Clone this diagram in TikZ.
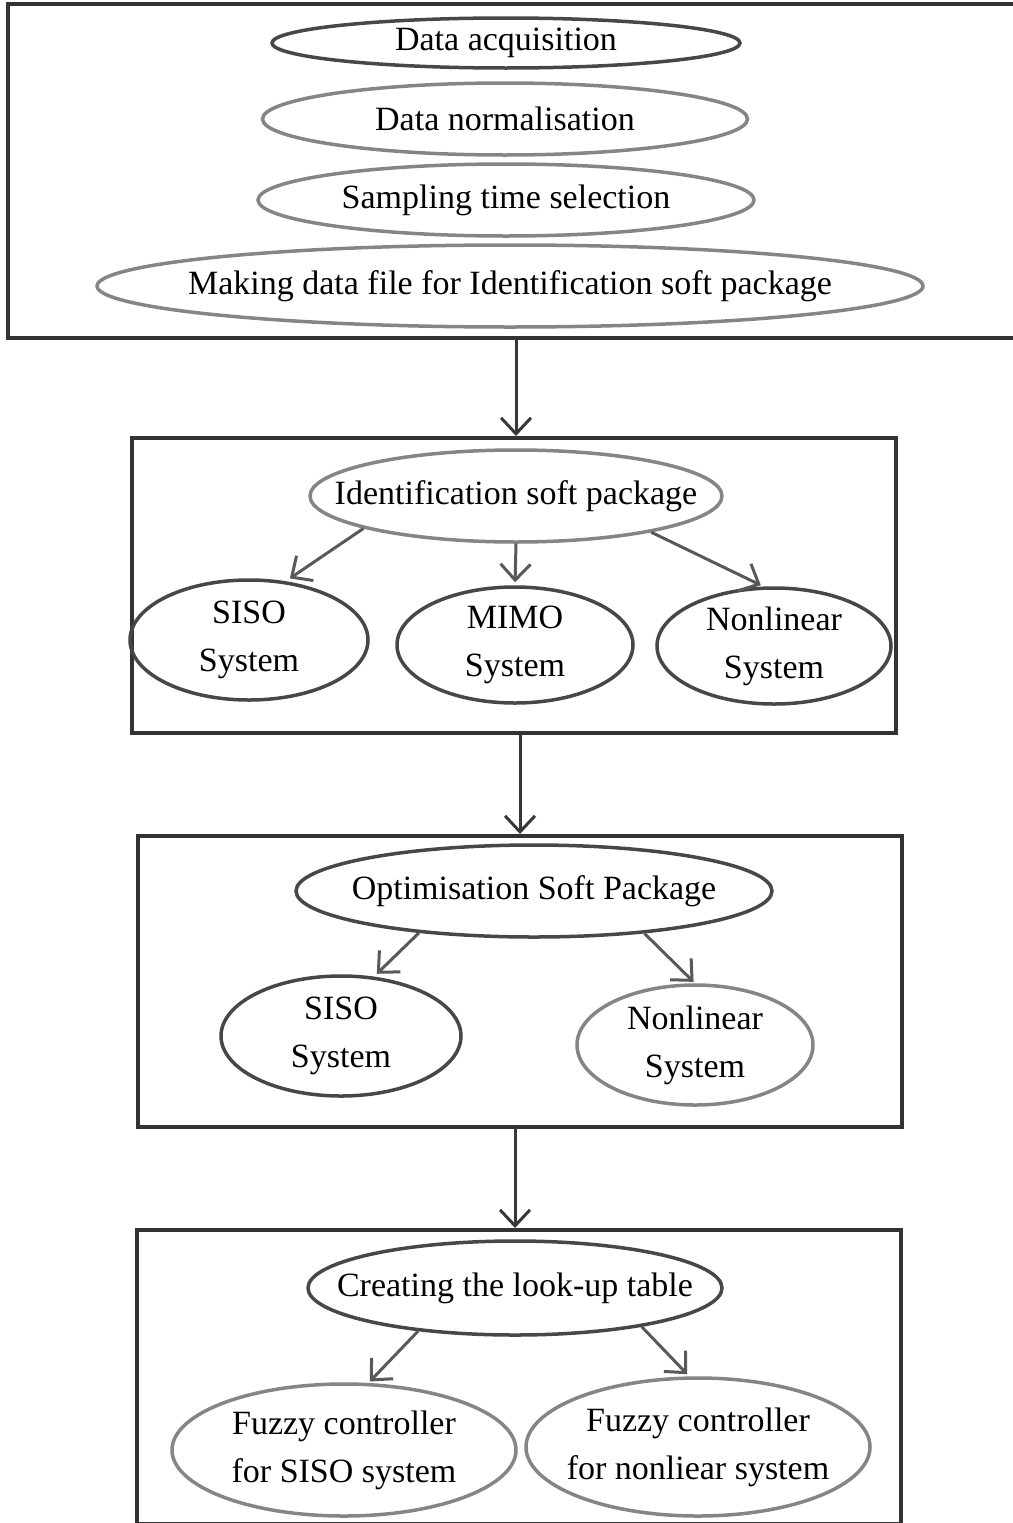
\documentclass[tikz,border=0pt]{standalone}
\usepackage{fontspec}
\setmainfont{Liberation Serif}
\usetikzlibrary{shapes.geometric,arrows.meta}

\tikzset{
  frame/.style={draw=black!80, line width=4pt},
  oval/.style={shape=ellipse, draw=black!72, line width=3.5pt, inner xsep=-150pt, inner ysep=-150pt,
               align=center, font=\fontsize{34}{48}\selectfont},
  lightoval/.style={oval, draw=black!48},
  flow/.style={draw=black!78, line width=3pt, -{Straight Barb[length=16pt,width=30pt,line width=3pt]}},
  subflow/.style={flow, draw=black!65}
}

\begin{document}
\begin{tikzpicture}[x=1pt,y=-1pt]
\useasboundingbox (0,0) rectangle (1012,1523);

% Stage 1: data preparation
\node[frame, minimum width=1040pt, minimum height=334pt, inner sep=0pt] (box1) at (528,171) {};
\node[oval, minimum width=468pt, minimum height=50pt] (acq) at (506,43) {Data acquisition};
\node[lightoval, minimum width=485pt, minimum height=72pt] (norm) at (505,119) {Data normalisation};
\node[lightoval, minimum width=496pt, minimum height=72pt] (samp) at (506,200) {Sampling time selection};
\node[lightoval, minimum width=826pt, minimum height=82pt] (mkfile) at (510,286) {Making data file for Identification soft package};

% Stage 2: identification
\node[frame, minimum width=764pt, minimum height=295pt, inner sep=0pt] (box2) at (514,585.5) {};
\node[lightoval, minimum width=412pt, minimum height=92pt] (ident) at (516,496) {Identification soft package};
\node[oval, minimum width=238pt, minimum height=120pt] (idsiso) at (249,640) {SISO\\System};
\node[oval, minimum width=236pt, minimum height=116pt] (idmimo) at (515,645) {MIMO\\System};
\node[oval, minimum width=234pt, minimum height=116pt] (idnonlin) at (774,646) {Nonlinear\\System};

% Stage 3: optimisation
\node[frame, minimum width=764pt, minimum height=291pt, inner sep=0pt] (box3) at (520,981.5) {};
\node[oval, minimum width=476pt, minimum height=92pt] (optim) at (534,891) {Optimisation Soft Package};
\node[oval, minimum width=240pt, minimum height=120pt] (opsiso) at (341,1036) {SISO\\System};
\node[lightoval, minimum width=236pt, minimum height=120pt] (opnonlin) at (695,1045) {Nonlinear\\System};

% Stage 4: look-up table and controllers
\node[frame, minimum width=764pt, minimum height=294pt, inner sep=0pt] (box4) at (519,1377) {};
\node[oval, minimum width=414pt, minimum height=94pt] (lut) at (515,1288) {Creating the look-up table};
\node[lightoval, minimum width=344pt, minimum height=132pt] (fzsiso) at (344,1450) {Fuzzy controller\\for SISO system};
\node[lightoval, minimum width=344pt, minimum height=138pt] (fznonlin) at (698,1447) {Fuzzy controller\\for nonliear system};

% Flow between stages
\draw[flow] (box1.south -| ident) -- (ident |- box2.north);
\draw[flow] (box2.south -| box3.north) -- (box3.north);
\draw[flow] (box3.south -| lut) -- (lut |- box4.north);

% Branches inside the stages
\draw[subflow, shorten >=5pt] (ident.192) -- (idsiso.58);
\draw[subflow, shorten >=3pt] (ident.south) -- (idmimo.north);
\draw[subflow, shorten >=3pt] (ident.-15) -- (idnonlin.100);

\draw[subflow, shorten >=4pt] (optim.200) -- (opsiso.61);
\draw[subflow, shorten >=2pt] (optim.-21) -- (opnonlin.north);

\draw[subflow, shorten >=2pt] (lut.204) -- (fzsiso.70);
\draw[subflow, shorten >=3pt] (lut.-17) -- (fznonlin.97);
\end{tikzpicture}
\end{document}
